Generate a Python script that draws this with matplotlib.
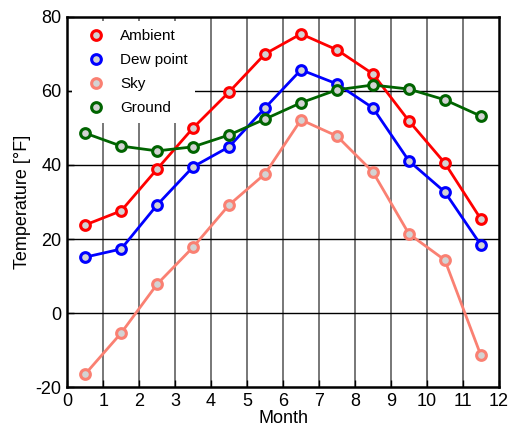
import matplotlib
matplotlib.use("Agg")
import matplotlib.pyplot as plt
from matplotlib.lines import Line2D

plt.rcParams['font.family'] = ['Liberation Sans', 'DejaVu Sans']
plt.rcParams['axes.unicode_minus'] = False

months = [0.5, 1.5, 2.5, 3.5, 4.5, 5.5, 6.5, 7.5, 8.5, 9.5, 10.5, 11.5]
ambient = [23.8, 27.6, 38.9, 50.0, 59.7, 70.0, 75.4, 71.1, 64.6, 51.9, 40.5, 25.4]
dew_point = [15.1, 17.3, 29.2, 39.5, 44.9, 55.4, 65.7, 61.9, 55.4, 41.1, 32.7, 18.4]
sky = [-16.5, -5.4, 7.8, 17.8, 29.2, 37.6, 52.2, 47.8, 38.1, 21.4, 14.3, -11.4]
ground = [48.6, 45.1, 43.8, 44.9, 48.1, 52.4, 56.8, 60.3, 61.6, 60.5, 57.6, 53.2]

series = [("Ambient", ambient, "#ff0000"),
          ("Dew point", dew_point, "#0000ff"),
          ("Sky", sky, "#fa8072"),
          ("Ground", ground, "#006400")]

fig = plt.figure(figsize=(5.09, 4.33), dpi=100)
ax = fig.add_axes([0.132, 0.106, 0.848, 0.855])

for name, vals, c in series:
    ax.plot(months, vals, color=c, lw=2, marker='o', ms=7, mfc='lightgray',
            mec=c, mew=2.2, zorder=3)

ax.set_xlim(0, 12)
ax.set_ylim(-20, 80)
ax.set_xticks(range(0, 13))
ax.set_yticks(range(-20, 81, 20))
for v in range(1, 12):
    ax.axvline(v, color='#606060', lw=1.2, zorder=1)
for v in range(0, 80, 20):
    ax.axhline(v, color='black', lw=1, zorder=1)
ax.tick_params(direction='in', labelsize=13, length=5, width=1, pad=4)
for s in ax.spines.values():
    s.set_linewidth(1.8)
ax.set_xlabel("Month", fontsize=13, labelpad=0)
ax.set_ylabel("Temperature [°F]", fontsize=13, labelpad=3)

handles = [Line2D([], [], ls='none', marker='o', ms=7, mfc='lightgray', mec=c, mew=2.2)
           for _, _, c in series]
leg = ax.legend(handles, [n for n, _, _ in series], loc='upper left', frameon=True,
                fontsize=11, handletextpad=0.45, borderaxespad=0.3, borderpad=0.5,
                labelspacing=0.65, handlelength=2.2)
leg.get_frame().set_edgecolor('none')
leg.get_frame().set_facecolor('white')
leg.get_frame().set_alpha(1)
leg.set_zorder(2)

fig.savefig("out.png", dpi=100)
